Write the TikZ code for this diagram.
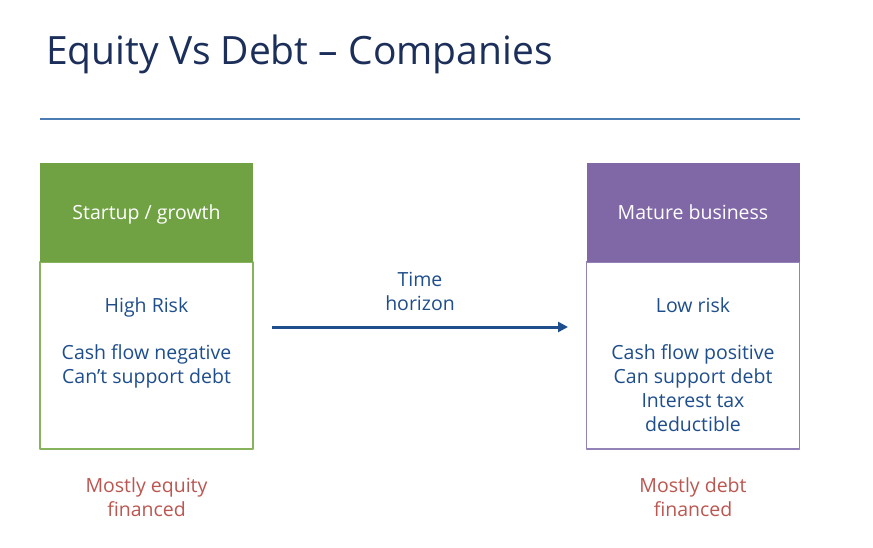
\documentclass[tikz,border=0pt]{standalone}
\usepackage{fontspec}
\setmainfont{Open Sans}
\usetikzlibrary{arrows.meta}
\definecolor{titlenavy}{HTML}{1C2F5B}
\definecolor{rulesteel}{HTML}{4B7DB4}
\definecolor{textblue}{HTML}{1F4E8C}
\definecolor{startgreen}{HTML}{70A244}
\definecolor{startline}{HTML}{86B35C}
\definecolor{maturepurple}{HTML}{8068A6}
\definecolor{matureline}{HTML}{9282B8}
\definecolor{financered}{HTML}{BC5650}
\tikzset{
  bodytxt/.style={font=\fontsize{19.5}{24}\selectfont, align=center, inner sep=0pt, anchor=base},
  headbox/.style={minimum width=213pt, minimum height=99pt, inner sep=0pt, text=white,
    text height=15pt, text depth=0pt, font=\fontsize{19.5}{24}\selectfont},
  bodybox/.style={minimum width=213pt, minimum height=187pt, inner sep=0pt, line width=1.6pt, fill=white}
}
\begin{document}
\begin{tikzpicture}[x=1pt, y=-1pt, >={Triangle[length=10pt,width=10pt]}, line join=round]
	\useasboundingbox[fill=white] (0,0) rectangle (873,548);
	% 1. Title and rule
	\node[anchor=base west, inner sep=0pt, text=titlenavy, font=\fontsize{39}{46}\selectfont] (title) at (46,65) {Equity Vs Debt -- Companies};
	\draw[rulesteel, line width=2pt] (40,119) -- (800,119);
	
	% 2. Left box (startup)
	\node[bodybox, draw=startline] (startbody) at (146.5,355.5) {};
	\node[headbox, fill=startgreen] (starthead) at (146.5,212.5) {Startup / growth};
	\node[bodytxt, text=textblue] (startrisk) at (146.5,312) {High Risk};
	\node[bodytxt, text=textblue] (startcash) at (146.5,383) {Cash flow negative\\Can’t support debt};
	
	% 3. Right box (mature)
	\node[bodybox, draw=matureline] (maturebody) at (693,355.5) {};
	\node[headbox, fill=maturepurple] (maturehead) at (693,212.5) {Mature business};
	\node[bodytxt, text=textblue] (maturerisk) at (693,312) {Low risk};
	\node[bodytxt, text=textblue] (maturecash) at (693,431) {Cash flow positive\\Can support debt\\Interest tax\\deductible};
	
	% 4. Time arrow
	\node[bodytxt, text=textblue] (timelbl) at (420,310) {Time\\horizon};
	\coordinate (tstart) at (272,327);
	\coordinate (tend) at (568,327);
	\draw[->, textblue, line width=3pt] (tstart) -- (tend);
	
	% 5. Financing notes
	\node[bodytxt, text=financered] (startfin) at (146.5,516) {Mostly equity\\financed};
	\node[bodytxt, text=financered] (maturefin) at (693,516) {Mostly debt\\financed};
	
\end{tikzpicture}
\end{document}
